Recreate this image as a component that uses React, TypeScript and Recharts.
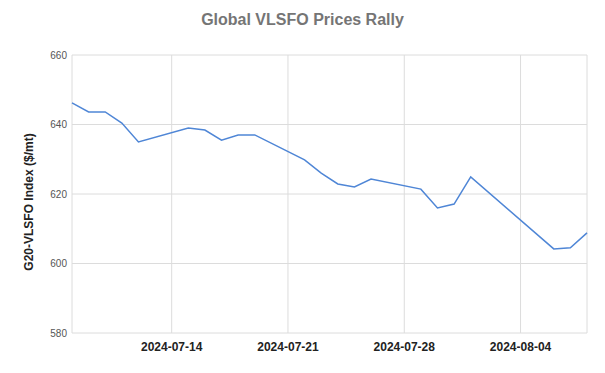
import React from "react";
import { LineChart, Line, XAxis, YAxis, CartesianGrid, Label } from "recharts";

const dates = [
  "2024-07-08", "2024-07-09", "2024-07-10", "2024-07-11", "2024-07-12",
  "2024-07-15", "2024-07-16", "2024-07-17", "2024-07-18", "2024-07-19",
  "2024-07-22", "2024-07-23", "2024-07-24", "2024-07-25", "2024-07-26",
  "2024-07-29", "2024-07-30", "2024-07-31", "2024-08-01",
  "2024-08-06", "2024-08-07", "2024-08-08",
];
const prices = [
  646.2, 643.6, 643.6, 640.4, 635.0,
  639.0, 638.4, 635.5, 637.0, 637.0,
  629.8, 626.0, 622.9, 622.0, 624.3,
  621.4, 616.0, 617.1, 624.9,
  604.2, 604.5, 608.8,
];
const xTickLabels = ["2024-07-14", "2024-07-21", "2024-07-28", "2024-08-04"];
const yTicks = [580, 600, 620, 640, 660];
const xDomainLabels = ["2024-07-08", "2024-08-08"];

const toTs = (s: string) => Date.parse(s + "T00:00:00Z");
const fmt = (t: number) => new Date(t).toISOString().slice(0, 10);

const data = dates.map((d, i) => ({ t: toTs(d), v: prices[i] }));

const FONT = "Arial, 'Liberation Sans', sans-serif";

export default function App() {
  return (
    <div style={{ position: "absolute", left: 0, top: 0, width: 605, height: 373, background: "#fff", fontFamily: FONT }}>
      <div
        style={{
          position: "absolute",
          top: 11,
          left: 0,
          width: 605,
          textAlign: "center",
          fontSize: 16,
          fontWeight: "bold",
          color: "#757575",
          fontFamily: FONT,
        }}
      >
        Global VLSFO Prices Rally
      </div>
      <LineChart
        width={605}
        height={373}
        data={data}
        margin={{ top: 55, right: 18, bottom: 0, left: 30 }}
      >
        <CartesianGrid stroke="#dcdcdc" strokeWidth={1} />
        <XAxis
          dataKey="t"
          type="number"
          scale="time"
          domain={[toTs(xDomainLabels[0]), toTs(xDomainLabels[1])]}
          ticks={xTickLabels.map(toTs)}
          tickFormatter={fmt}
          axisLine={false}
          tickLine={false}
          tickSize={0}
          tickMargin={9}
          height={40}
          tick={{ fontSize: 12, fontWeight: "bold", fill: "#222", fontFamily: FONT }}
        />
        <YAxis
          type="number"
          domain={[580, 660]}
          ticks={yTicks}
          axisLine={false}
          tickLine={false}
          tickSize={0}
          tickMargin={5}
          width={42}
          tick={{ fontSize: 10, fill: "#555", fontFamily: FONT }}
        >
          <Label
            content={() => (
              <text
                x={33}
                y={202}
                transform="rotate(-90 33 202)"
                textAnchor="middle"
                fontSize={12}
                fontWeight="bold"
                fill="#222"
                fontFamily={FONT}
              >
                G20-VLSFO Index ($/mt)
              </text>
            )}
          />
        </YAxis>
        <Line
          type="linear"
          dataKey="v"
          stroke="#4f86d6"
          strokeWidth={1.5}
          dot={false}
          isAnimationActive={false}
        />
      </LineChart>
    </div>
  );
}
